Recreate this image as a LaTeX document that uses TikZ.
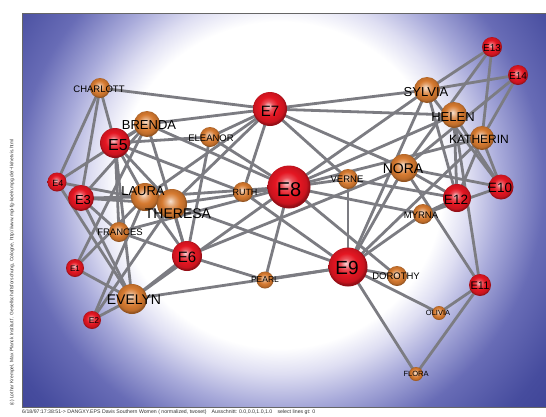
\documentclass[tikz,border=0pt]{standalone}
\usepackage{fontspec}
\setmainfont{Liberation Sans}

% background glow
\definecolor{glowA}{RGB}{222,222,242}
\definecolor{glowB}{RGB}{168,170,218}
\definecolor{glowC}{RGB}{104,108,182}
\definecolor{glowD}{RGB}{70,76,158}
\definecolor{glowE}{RGB}{52,57,140}
\pgfdeclareradialshading{glow}{\pgfpoint{0bp}{0bp}}{%
  color(0bp)=(white); color(10.2bp)=(white); color(11.8bp)=(glowA);
  color(13.8bp)=(glowB); color(16.5bp)=(glowC); color(20bp)=(glowD);
  color(25bp)=(glowE); color(50bp)=(glowE)}

% spheres
\definecolor{sphred}{RGB}{228,22,34}
\definecolor{sphorange}{RGB}{214,122,48}
\definecolor{edgegray}{RGB}{124,124,130}
\pgfdeclareradialshading{redball}{\pgfpoint{-3bp}{5bp}}{%
  color(0bp)=(sphred!18!white); color(7bp)=(sphred!75!white);
  color(14bp)=(sphred); color(22bp)=(sphred!88!black);
  color(25bp)=(sphred!65!black); color(50bp)=(sphred!65!black)}
\pgfdeclareradialshading{orangeball}{\pgfpoint{-3bp}{5bp}}{%
  color(0bp)=(sphorange!22!white); color(8bp)=(sphorange!70!white);
  color(15bp)=(sphorange); color(22bp)=(sphorange!88!black);
  color(25bp)=(sphorange!68!black); color(50bp)=(sphorange!68!black)}

\pgfdeclarelayer{bg}
\pgfdeclarelayer{edges}
\pgfsetlayers{bg,edges,main}

\tikzset{
  evt/.style={circle, inner sep=0pt, shading=redball, minimum size=#1},
  wom/.style={circle, inner sep=0pt, shading=orangeball, minimum size=#1},
  edge/.style={draw=edgegray, line width=2.8pt},
  lbl/.style={inner sep=0pt, text=black, font=\fontsize{#1}{#1}\selectfont},
  note/.style={inner sep=0pt, text=black!80, font=\fontsize{#1}{#1}\selectfont}
}

\begin{document}
\begin{tikzpicture}[x=1pt,y=-1pt]
\useasboundingbox (0,0) rectangle (546,416);

\begin{pgfonlayer}{bg}
  \fill[white] (0,0) rectangle (546,416);
  \begin{scope}
    \clip (22,13) rectangle (546,407);
    \shade[shading=glow] (-120,-215) rectangle (680,585);
  \end{scope}
  \draw[black!60, line width=0.6pt] (22,13) rectangle (546,407);
\end{pgfonlayer}

% events
\node[evt=18pt] (E1) at (75,268) {};
\node[evt=18pt] (E2) at (92,320) {};
\node[evt=26pt] (E3) at (81,198) {};
\node[evt=19pt] (E4) at (57,182) {};
\node[evt=30pt] (E5) at (115,143) {};
\node[evt=30pt] (E6) at (187,256) {};
\node[evt=34pt] (E7) at (270,109) {};
\node[evt=43pt] (E8) at (289,187) {};
\node[evt=39pt] (E9) at (348,267) {};
\node[evt=25pt] (E10) at (501,187) {};
\node[evt=22pt] (E11) at (480,285) {};
\node[evt=28pt] (E12) at (457,198) {};
\node[evt=20pt] (E13) at (492,47) {};
\node[evt=20pt] (E14) at (518,75) {};

% women
\node[wom=30pt] (Evelyn) at (132,299) {};
\node[wom=28pt] (Laura) at (145,197) {};
\node[wom=30pt] (Theresa) at (172,204) {};
\node[wom=26pt] (Brenda) at (147,124) {};
\node[wom=20pt] (Charlott) at (100,88) {};
\node[wom=20pt] (Frances) at (119,232) {};
\node[wom=20pt] (Eleanor) at (210,137) {};
\node[wom=17pt] (Pearl) at (265,280) {};
\node[wom=20pt] (Ruth) at (243,192) {};
\node[wom=20pt] (Verne) at (348,179) {};
\node[wom=20pt] (Myrna) at (423,214) {};
\node[wom=24pt] (Katherine) at (482,138) {};
\node[wom=26pt] (Sylvia) at (427,90) {};
\node[wom=28pt] (Nora) at (404,168) {};
\node[wom=26pt] (Helen) at (454,115) {};
\node[wom=20pt] (Dorothy) at (397,276) {};
\node[wom=14pt] (Olivia) at (439,313) {};
\node[wom=14pt] (Flora) at (416,374) {};

% attendance ties
\begin{pgfonlayer}{edges}
\foreach \w/\e in {
  Evelyn/E1, Evelyn/E2, Evelyn/E3, Evelyn/E4, Evelyn/E5, Evelyn/E6, Evelyn/E8, Evelyn/E9,
  Laura/E1, Laura/E2, Laura/E3, Laura/E5, Laura/E6, Laura/E7, Laura/E8,
  Theresa/E2, Theresa/E3, Theresa/E4, Theresa/E5, Theresa/E6, Theresa/E7, Theresa/E8, Theresa/E9,
  Brenda/E1, Brenda/E3, Brenda/E4, Brenda/E5, Brenda/E6, Brenda/E7, Brenda/E8,
  Charlott/E3, Charlott/E4, Charlott/E5, Charlott/E7,
  Frances/E3, Frances/E5, Frances/E6, Frances/E8,
  Eleanor/E5, Eleanor/E6, Eleanor/E7, Eleanor/E8,
  Pearl/E6, Pearl/E8, Pearl/E9,
  Ruth/E5, Ruth/E7, Ruth/E8, Ruth/E9,
  Verne/E7, Verne/E8, Verne/E9, Verne/E12,
  Myrna/E8, Myrna/E9, Myrna/E10, Myrna/E12,
  Katherine/E8, Katherine/E9, Katherine/E10, Katherine/E12, Katherine/E13, Katherine/E14,
  Sylvia/E7, Sylvia/E8, Sylvia/E9, Sylvia/E10, Sylvia/E12, Sylvia/E13, Sylvia/E14,
  Nora/E6, Nora/E7, Nora/E9, Nora/E10, Nora/E11, Nora/E12, Nora/E13, Nora/E14,
  Helen/E7, Helen/E8, Helen/E10, Helen/E11, Helen/E12,
  Dorothy/E8, Dorothy/E9,
  Olivia/E9, Olivia/E11,
  Flora/E9, Flora/E11}
  \draw[edge] (\w.center) -- (\e.center);
\end{pgfonlayer}

% labels
\node[lbl=8] (E1-t) at (75,269) {E1};
\node[lbl=8.5] (E2-t) at (94,321) {E2};
\node[lbl=13] (E3-t) at (83,200) {E3};
\node[lbl=9] (E4-t) at (58,183) {E4};
\node[lbl=16] (E5-t) at (118,145) {E5};
\node[lbl=15] (E6-t) at (187,257) {E6};
\node[lbl=15] (E7-t) at (270,111) {E7};
\node[lbl=20] (E8-t) at (289,190) {E8};
\node[lbl=19] (E9-t) at (347,268) {E9};
\node[lbl=13.5] (E10-t) at (500,188) {E10};
\node[lbl=11] (E11-t) at (480,286) {E11};
\node[lbl=13.5] (E12-t) at (456,200) {E12};
\node[lbl=10] (E13-t) at (492,48) {E13};
\node[lbl=10] (E14-t) at (518,76) {E14};

\node[lbl=14] (Evelyn-t) at (134,300) {EVELYN};
\node[lbl=13] (Laura-t) at (143,191) {LAURA};
\node[lbl=14] (Theresa-t) at (178,214) {THERESA};
\node[lbl=13] (Brenda-t) at (149,125) {BRENDA};
\node[lbl=9.5] (Charlott-t) at (99,89) {CHARLOTT};
\node[lbl=9.5] (Frances-t) at (120,232) {FRANCES};
\node[lbl=9.5] (Eleanor-t) at (211,138) {ELEANOR};
\node[lbl=8.5] (Pearl-t) at (265,280) {PEARL};
\node[lbl=9] (Ruth-t) at (245,192) {RUTH};
\node[lbl=9.5] (Verne-t) at (347,179) {VERNE};
\node[lbl=9.5] (Myrna-t) at (421,215) {MYRNA};
\node[lbl=12] (Katherine-t) at (479,139) {KATHERIN};
\node[lbl=13] (Sylvia-t) at (426,92) {SYLVIA};
\node[lbl=14] (Nora-t) at (403,169) {NORA};
\node[lbl=13] (Helen-t) at (453,117) {HELEN};
\node[lbl=9.5] (Dorothy-t) at (396,276) {DOROTHY};
\node[lbl=7.5] (Olivia-t) at (438,313) {OLIVIA};
\node[lbl=7.5] (Flora-t) at (416,374) {FLORA};

% credits
\node[note=4.9, rotate=90, anchor=west] (credit) at (12,406)
  {(c) Lothar Krempel, Max Planck Institut f. Gesellschaftsforschung, Cologne, http://www.mpi-fg-koeln.mpg.de/\textasciitilde lk/netvis.html};
\node[note=5.2, anchor=west] (footer) at (22,412.5)
  {6/18/97:17:38:51-> DANGXY.EPS Davis Southern Women ( normalized, twoset)\quad Ausschnitt: 0.0,0.0,1.0,1.0\quad select lines gt: 0};
\end{tikzpicture}
\end{document}
